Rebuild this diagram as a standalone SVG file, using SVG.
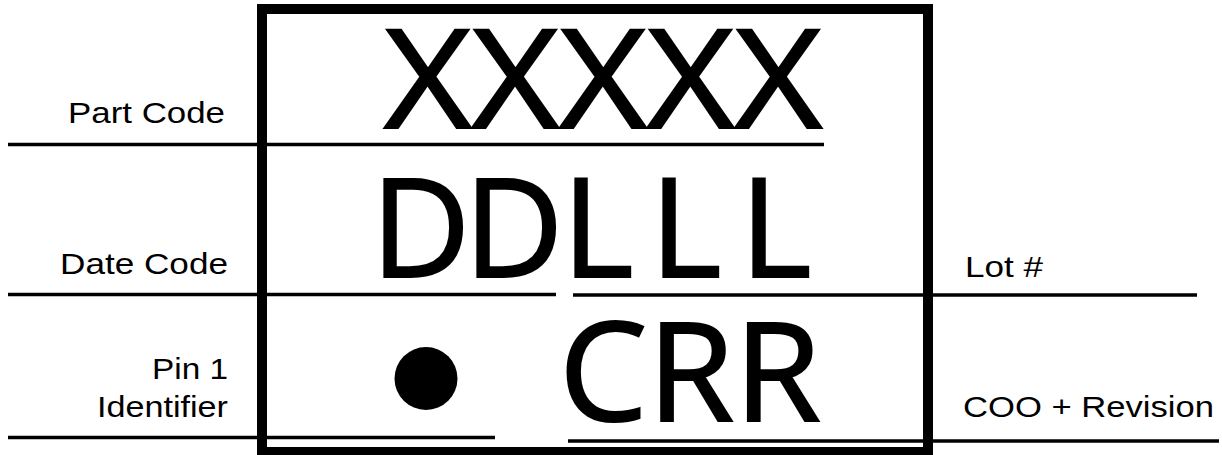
<svg xmlns="http://www.w3.org/2000/svg" width="1222" height="455" viewBox="0 0 1222 455">
<style>
.lbl{font-family:"Liberation Sans",Arial,sans-serif;font-size:29px;fill:#000}
.big{font-family:"Open Sans","Noto Sans",sans-serif;font-size:137px;font-weight:400;fill:#000;stroke:#000;stroke-width:2}
.ln{stroke:#000;stroke-width:3.5;fill:none}
</style>
<rect width="1222" height="455" fill="#fff"/>
<g id="package">
<rect x="262" y="9" width="666" height="443" fill="none" stroke="#000" stroke-width="10"/>
</g>
<g id="connectors">
<line class="ln" x1="8" y1="144.5" x2="824" y2="144.5"/>
<line class="ln" x1="8" y1="294.5" x2="556" y2="294.5"/>
<line class="ln" x1="573" y1="295" x2="1197" y2="295"/>
<line class="ln" x1="8" y1="437.5" x2="495" y2="437.5"/>
<line class="ln" x1="568" y1="441" x2="1219" y2="441"/>
</g>
<g id="part-code">
<text class="lbl" x="225" y="123" text-anchor="end" textLength="157" lengthAdjust="spacingAndGlyphs">Part Code</text>
<text class="big" x="384" y="128" textLength="438" lengthAdjust="spacingAndGlyphs">XXXXX</text>
</g>
<g id="date-code">
<text class="lbl" x="228" y="274" text-anchor="end" textLength="168" lengthAdjust="spacingAndGlyphs">Date Code</text>
<text class="big" y="277"><tspan x="371">D</tspan><tspan x="464">D</tspan><tspan x="562">L</tspan><tspan x="650">L</tspan><tspan x="740">L</tspan></text>
</g>
<g id="lot">
<text class="lbl" x="965" y="277" textLength="78" lengthAdjust="spacingAndGlyphs">Lot #</text>
</g>
<g id="pin1">
<text class="lbl" x="228" y="379" text-anchor="end" textLength="76" lengthAdjust="spacingAndGlyphs">Pin 1</text>
<text class="lbl" x="228" y="417" text-anchor="end" textLength="131" lengthAdjust="spacingAndGlyphs">Identifier</text>
<circle cx="426" cy="378.5" r="31.5" fill="#000"/>
</g>
<g id="coo">
<text class="big" x="559" y="421" textLength="262" lengthAdjust="spacingAndGlyphs">CRR</text>
<text class="lbl" x="963" y="417" textLength="251" lengthAdjust="spacingAndGlyphs">COO + Revision</text>
</g>
</svg>
